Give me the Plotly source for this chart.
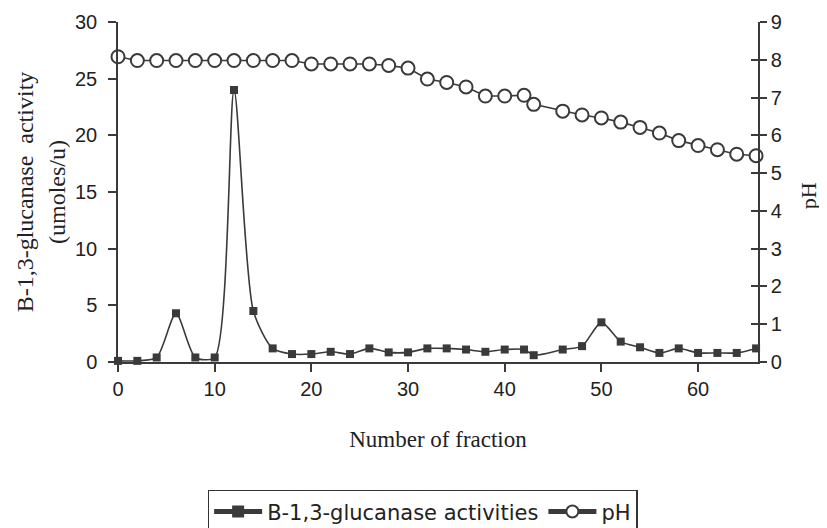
import plotly.graph_objects as go

# Fraction numbers
fractions = [0, 2, 4, 6, 8, 10, 12, 14, 16, 18, 20, 22, 24, 26, 28, 30, 32, 34,
             36, 38, 40, 42, 43, 46, 48, 50, 52, 54, 56, 58, 60, 62, 64, 66]

# B-1,3-glucanase activity (umoles/u)
activity = [0.1, 0.1, 0.4, 4.3, 0.4, 0.4, 24.0, 4.5, 1.2, 0.7, 0.7, 0.9, 0.7, 1.2,
            0.85, 0.85, 1.2, 1.2, 1.1, 0.9, 1.1, 1.1, 0.6, 1.1, 1.4, 3.5, 1.8, 1.3,
            0.8, 1.2, 0.8, 0.8, 0.8, 1.2]

# pH
ph = [8.08, 7.98, 7.98, 7.98, 7.98, 7.98, 7.98, 7.98, 7.98, 7.98, 7.89, 7.89, 7.89,
      7.89, 7.85, 7.78, 7.49, 7.40, 7.28, 7.04, 7.04, 7.06, 6.82, 6.64, 6.54, 6.46,
      6.35, 6.21, 6.06, 5.86, 5.73, 5.62, 5.50, 5.46]

x_ticks = [0, 10, 20, 30, 40, 50, 60]
y_ticks = [0, 5, 10, 15, 20, 25, 30]
ph_ticks = [0, 1, 2, 3, 4, 5, 6, 7, 8, 9]

INK = "#3a3a3a"
SANS = "Liberation Sans, Arial, sans-serif"
SERIF = "Liberation Serif, Times New Roman, serif"

fig = go.Figure()

fig.add_trace(go.Scatter(
    x=fractions, y=activity, name="B-1,3-glucanase activities",
    mode="lines+markers",
    line=dict(color=INK, width=1.6, shape="spline", smoothing=0.7),
    marker=dict(symbol="square", size=8, color=INK),
    cliponaxis=False, yaxis="y",
))

fig.add_trace(go.Scatter(
    x=fractions, y=ph, name="pH",
    mode="lines+markers",
    line=dict(color=INK, width=1.6),
    marker=dict(symbol="circle", size=13, color="white",
                line=dict(color=INK, width=2)),
    cliponaxis=False, yaxis="y2",
))

# invisible helper trace so the inner-tick axis is drawn
fig.add_trace(go.Scatter(
    x=[fractions[0]], y=[ph[0]], mode="markers", marker=dict(opacity=0),
    showlegend=False, hoverinfo="skip", yaxis="y3",
))

# the page body has an 8px margin, so the figure is 8px smaller
fig.update_layout(
    width=819, height=520,
    margin=dict(l=110, r=69, t=14, b=166, autoexpand=False),
    paper_bgcolor="white", plot_bgcolor="white",
    showlegend=True,
    legend=dict(
        orientation="h", x=0.476, xanchor="center", y=-0.376, yanchor="top",
        font=dict(family="DejaVu Sans, sans-serif", size=21, color="#222"),
        bordercolor="#333", borderwidth=1.5, bgcolor="white",
        itemsizing="constant", itemwidth=48,
    ),
    xaxis=dict(
        range=[0, 66.2], tickvals=x_ticks, ticks="outside", ticklen=8,
        tickwidth=1.5, tickcolor=INK, showline=True, linecolor=INK, linewidth=1.5,
        showgrid=False, zeroline=False,
        tickfont=dict(family=SANS, size=20, color="#222"),
        title=dict(text="Number of fraction", standoff=32,
                   font=dict(family=SERIF, size=23, color="#222")),
    ),
    yaxis=dict(
        range=[0, 30], tickvals=y_ticks, ticks="outside", ticklen=8,
        tickwidth=1.5, tickcolor=INK, showline=True, linecolor=INK, linewidth=1.5,
        showgrid=False, zeroline=False, ticklabelstandoff=7,
        tickfont=dict(family=SANS, size=20, color="#222"),
        title=dict(text="B-1,3-glucanase  activity<br>(umoles/u)", standoff=3,
                   font=dict(family=SERIF, size=24, color="#222")),
    ),
    yaxis2=dict(
        range=[0, 9], tickvals=ph_ticks, overlaying="y", side="right",
        ticks="outside", ticklen=7, tickwidth=1.5, tickcolor=INK,
        showline=True, linecolor=INK, linewidth=1.5, showgrid=False, zeroline=False,
        tickfont=dict(family=SANS, size=20, color="#222"),
    ),
    yaxis3=dict(
        range=[0, 9], tickvals=ph_ticks, overlaying="y", side="right",
        anchor="x", ticks="inside", ticklen=7, tickwidth=1.5, tickcolor=INK,
        showline=False, showgrid=False, zeroline=False, showticklabels=False,
    ),
    annotations=[dict(
        text="pH", xref="paper", yref="paper", x=1.078, y=0.49,
        xanchor="center", yanchor="middle", textangle=-90, showarrow=False,
        font=dict(family=SERIF, size=22, color="#222"),
    )],
)

fig.write_html("out.html")
